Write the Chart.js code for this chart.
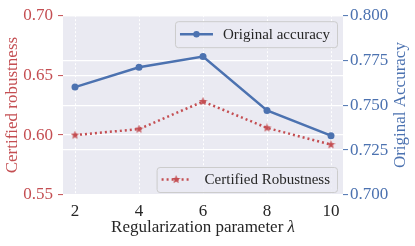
<!DOCTYPE html>
<html><head><meta charset="utf-8">
<script src="https://cdn.jsdelivr.net/npm/chart.js@4/dist/chart.umd.min.js"></script>
<style>html,body{margin:0;padding:0;background:#fff}#wrap{width:415px;height:246px}</style>
</head><body><div id="wrap"><canvas id="c" width="415" height="246"></canvas></div>
<script>
const lambdas = [2, 4, 6, 8, 10];
const originalAccuracy = [0.760, 0.771, 0.777, 0.747, 0.733];
const certifiedRobustness = [0.600, 0.605, 0.628, 0.606, 0.592];
const leftTicks = [0.55, 0.60, 0.65, 0.70];
const rightTicks = [0.700, 0.725, 0.750, 0.775, 0.800];
const xTicks = [2, 4, 6, 8, 10];

const RED = '#C44E52', BLUE = '#4C72B0', BG = '#EAEAF2';
const FONT = '"Liberation Serif", "Times New Roman", serif';

function starCanvas(size, color) {
  const c = document.createElement('canvas');
  c.width = size; c.height = size;
  const g = c.getContext('2d');
  const cx = size / 2, cy = size / 2, R = size / 2, r = R * 0.42;
  g.beginPath();
  for (let i = 0; i < 10; i++) {
    const rad = i % 2 === 0 ? R : r;
    const a = -Math.PI / 2 + i * Math.PI / 5;
    const x = cx + rad * Math.cos(a), y = cy + rad * Math.sin(a);
    if (i === 0) g.moveTo(x, y); else g.lineTo(x, y);
  }
  g.closePath(); g.fillStyle = color; g.fill();
  return c;
}
const star = starCanvas(9, RED);

const bgPlugin = {
  id: 'bg',
  beforeDraw(chart) {
    const a = chart.chartArea, ctx = chart.ctx;
    ctx.save(); ctx.fillStyle = BG;
    ctx.fillRect(a.left, a.top, a.right - a.left, a.bottom - a.top);
    ctx.restore();
  },
  afterDraw(chart) {
    const a = chart.chartArea, ctx = chart.ctx;
    ctx.save();
    // axis titles
    ctx.textBaseline = 'middle';
    ctx.fillStyle = '#262626';
    {
      const t1 = 'Regularization parameter ', t2 = '\u03BB';
      ctx.font = '17px ' + FONT;
      const w1 = ctx.measureText(t1).width;
      ctx.font = 'italic 17px ' + FONT;
      const w2 = ctx.measureText(t2).width;
      const x0 = (a.left + a.right) / 2 - (w1 + w2) / 2;
      ctx.textAlign = 'left';
      ctx.font = '17px ' + FONT;
      ctx.fillText(t1, x0, 228);
      ctx.font = 'italic 17px ' + FONT;
      ctx.fillText(t2, x0 + w1, 228);
    }
    ctx.font = '17px ' + FONT;
    ctx.textAlign = 'center';
    ctx.fillStyle = RED;
    ctx.save(); ctx.translate(13, (a.top + a.bottom) / 2); ctx.rotate(-Math.PI / 2);
    ctx.fillText('Certified robustness', 0, 0); ctx.restore();
    ctx.fillStyle = BLUE;
    ctx.save(); ctx.translate(401, (a.top + a.bottom) / 2); ctx.rotate(-Math.PI / 2);
    ctx.fillText('Original Accuracy', 0, 0); ctx.restore();

    // legends
    ctx.font = '15px ' + FONT;
    function box(x0, y0, w, h) {
      ctx.beginPath();
      ctx.roundRect(x0 + 0.5, y0 + 0.5, w, h, 3);
      ctx.fillStyle = 'rgba(234,234,242,0.8)'; ctx.fill();
      ctx.strokeStyle = '#CCCCCC'; ctx.lineWidth = 1; ctx.stroke();
    }
    const ds = chart.data.datasets;
    {
      const txt = ds[0].label, tw = ctx.measureText(txt).width;
      const w = 5 + 33 + 10 + tw + 7, h = 26;
      const x0 = a.right - 6 - w, y0 = a.top + 6;
      box(x0, y0, w, h);
      const cy = y0 + h / 2;
      ctx.strokeStyle = BLUE; ctx.lineWidth = 2.5;
      ctx.beginPath(); ctx.moveTo(x0 + 5, cy); ctx.lineTo(x0 + 38, cy); ctx.stroke();
      ctx.fillStyle = BLUE; ctx.beginPath(); ctx.arc(x0 + 21.5, cy, 3.2, 0, Math.PI * 2); ctx.fill();
      ctx.fillStyle = '#262626'; ctx.textAlign = 'left'; ctx.textBaseline = 'middle';
      ctx.fillText(txt, x0 + 48, cy + 1);
    }
    {
      const txt = ds[1].label, tw = ctx.measureText(txt).width;
      const w = 5 + 29 + 14 + tw + 7, h = 25;
      const x0 = a.right - 6 - w, y0 = a.bottom - 3 - h;
      box(x0, y0, w, h);
      const cy = y0 + h / 2;
      ctx.strokeStyle = RED; ctx.lineWidth = 2.5; ctx.setLineDash([2, 3]);
      ctx.beginPath(); ctx.moveTo(x0 + 5, cy); ctx.lineTo(x0 + 34, cy); ctx.stroke();
      ctx.setLineDash([]);
      ctx.drawImage(star, x0 + 19.5 - 4.5, cy - 4.5);
      ctx.fillStyle = '#262626'; ctx.textAlign = 'left'; ctx.textBaseline = 'middle';
      ctx.fillText(txt, x0 + 48, cy + 1);
    }
    ctx.restore();
  }
};

new Chart(document.getElementById('c'), {
  type: 'line',
  data: {
    datasets: [
      {
        label: 'Original accuracy',
        data: lambdas.map((x, i) => ({ x: x, y: originalAccuracy[i] })),
        yAxisID: 'y1',
        borderColor: BLUE, backgroundColor: BLUE,
        borderWidth: 2.5, pointRadius: 3.5, pointHoverRadius: 3.5,
        pointBorderWidth: 0, tension: 0
      },
      {
        label: 'Certified Robustness',
        data: lambdas.map((x, i) => ({ x: x, y: certifiedRobustness[i] })),
        yAxisID: 'y',
        borderColor: RED, backgroundColor: RED,
        borderWidth: 2.5, borderDash: [2, 3], borderCapStyle: 'butt',
        pointStyle: star, pointRadius: 4.5, tension: 0
      }
    ]
  },
  options: {
    responsive: false, animation: false,
    layout: { padding: { top: 13, left: 0, right: 0, bottom: 0 } },
    plugins: { legend: { display: false }, tooltip: { enabled: false } },
    scales: {
      x: {
        type: 'linear', min: 1.625, max: 10.375,
        afterBuildTicks(s) { s.ticks = xTicks.map(v => ({ value: v })); },
        afterFit(s) { s.height = 51; },
        grid: { color: '#FFFFFF', lineWidth: 1, drawTicks: true, tickLength: 4, tickColor: 'rgba(0,0,0,0)' },
        border: { display: false, dash: [2, 2] },
        ticks: { color: '#262626', font: { family: FONT, size: 17 }, padding: 2, maxRotation: 0 }
      },
      y: {
        position: 'left', min: 0.55, max: 0.70,
        afterBuildTicks(s) { s.ticks = leftTicks.map(v => ({ value: v })); },
        afterFit(s) { s.width = 63; },
        grid: { color: '#FFFFFF', lineWidth: 1.2, tickLength: 5, tickColor: RED, tickWidth: 1 },
        border: { display: false },
        ticks: { color: RED, font: { family: FONT, size: 17 }, padding: 5, callback: v => v.toFixed(2) }
      },
      y1: {
        position: 'right', min: 0.70, max: 0.80,
        afterBuildTicks(s) { s.ticks = rightTicks.map(v => ({ value: v })); },
        afterFit(s) { s.width = 72; },
        grid: { color: '#FFFFFF', lineWidth: 1.2, tickLength: 5, tickColor: BLUE, tickWidth: 1 },
        border: { display: false },
        ticks: { color: BLUE, font: { family: FONT, size: 17 }, padding: 2, callback: v => v.toFixed(3) }
      }
    }
  },
  plugins: [bgPlugin]
});
</script></body></html>
